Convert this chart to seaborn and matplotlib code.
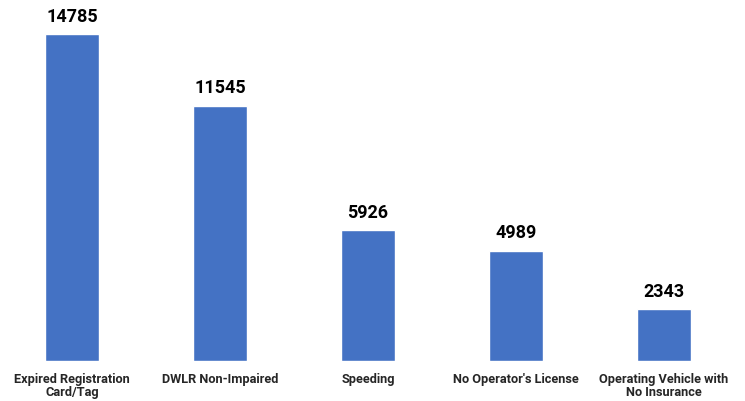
import matplotlib
matplotlib.use("Agg")
import matplotlib.pyplot as plt
import seaborn as sns
import pandas as pd

# Chart data
categories = [
    "Expired Registration\nCard/Tag",
    "DWLR Non-Impaired",
    "Speeding",
    "No Operator's License",
    "Operating Vehicle with\nNo Insurance",
]
counts = [14785, 11545, 5926, 4989, 2343]

sns.set_theme(style="white")
plt.rcParams["font.family"] = ["Roboto", "DejaVu Sans"]

df = pd.DataFrame({"category": categories, "count": counts})

fig = plt.figure(figsize=(7.45, 4.01), dpi=100)
ax = fig.add_axes([-0.0027, 0.0998, 0.9933, 0.9002])

sns.barplot(data=df, x="category", y="count", color="#4472C4",
            width=0.36, saturation=1, ax=ax)

ax.set_ylim(0, 16320)
ax.set_xlim(-0.5, 4.5)

# value labels above bars
for c in ax.containers:
    ax.bar_label(c, fmt="%d", padding=6, fontsize=13, fontweight="bold",
                 color="black")

ax.set_xlabel("")
ax.set_ylabel("")
ax.set_yticks([])
ax.tick_params(axis="x", length=0, pad=9, labelsize=9.2)
for lbl in ax.get_xticklabels():
    lbl.set_fontweight("bold")
    lbl.set_linespacing(1.0)
sns.despine(left=True, bottom=True)

fig.savefig("out.png", dpi=100)
plt.close(fig)
